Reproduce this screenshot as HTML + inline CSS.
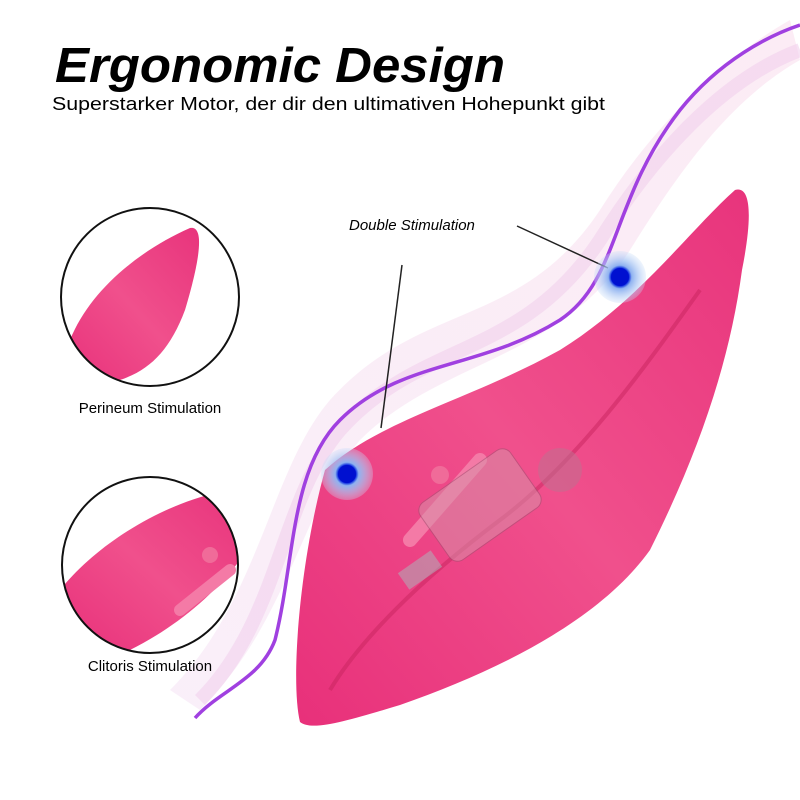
<!DOCTYPE html>
<html><head><meta charset="utf-8"><style>
html,body{margin:0;padding:0;background:#fff;width:800px;height:800px;overflow:hidden}
svg{display:block}
</style></head><body>
<svg width="800" height="800" viewBox="0 0 800 800" xmlns="http://www.w3.org/2000/svg">
<defs>
<linearGradient id="pk" x1="0" y1="1" x2="1" y2="0">
<stop offset="0" stop-color="#e8307a"/><stop offset="0.5" stop-color="#f0508c"/><stop offset="1" stop-color="#e8347c"/>
</linearGradient>
<linearGradient id="wave" x1="0" y1="1" x2="1" y2="0">
<stop offset="0" stop-color="#f6e6f6" stop-opacity="0.9"/><stop offset="1" stop-color="#f8d8ea" stop-opacity="0.7"/>
</linearGradient>
<radialGradient id="bd"><stop offset="0" stop-color="#0018d8"/><stop offset="0.35" stop-color="#1030e0"/><stop offset="0.45" stop-color="#8fb2f0"/><stop offset="1" stop-color="#c8dcf8" stop-opacity="0.3"/></radialGradient>
<clipPath id="c1"><circle cx="150" cy="297" r="89"/></clipPath>
<clipPath id="c2"><circle cx="150" cy="565" r="88"/></clipPath>
</defs>
<path d="M170 690 C260 600 270 470 330 400 C420 300 520 330 600 210 C650 130 720 60 790 20 L800 60 C730 100 680 170 630 250 C560 360 440 360 360 440 C300 510 290 620 200 710 Z" fill="url(#wave)" opacity="0.7"/>
<path d="M200 700 C280 620 280 500 340 430 C420 340 520 360 600 240 C650 160 720 80 800 50" fill="none" stroke="#f2d0ec" stroke-width="14" opacity="0.6"/>
<path d="M300 722 C290 680 300 560 325 470 C380 420 470 400 560 350 C640 300 690 230 735 190 C752 185 752 220 742 270 C730 360 700 450 650 550 C600 620 500 670 400 705 C350 720 312 732 300 722 Z" fill="url(#pk)"/>
<path d="M330 690 C360 640 420 580 500 520 C580 460 650 360 700 290" fill="none" stroke="#c8245e" stroke-width="4" opacity="0.5"/>
<path d="M410 540 L480 460" stroke="#f47aa6" stroke-width="14" stroke-linecap="round"/>
<circle cx="440" cy="475" r="9" fill="#f06b99"/>
<g opacity="0.55">
<rect x="425" y="470" width="110" height="70" rx="10" transform="rotate(-35 480 505)" fill="#d890a8" stroke="#a05070"/>
<rect x="400" y="560" width="40" height="20" transform="rotate(-35 420 570)" fill="#b0b0b8"/>
<circle cx="560" cy="470" r="22" fill="#c07090"/>
</g>
<path d="M195 718 C220 690 260 680 275 640 C295 560 290 470 340 420 C400 360 480 370 560 320 C620 280 610 200 680 110 C720 60 770 35 800 25" fill="none" stroke="#a040e0" stroke-width="3.5"/>
<line x1="402" y1="265" x2="381" y2="428" stroke="#222" stroke-width="1.5"/>
<line x1="517" y1="226" x2="608" y2="268" stroke="#222" stroke-width="1.5"/>
<circle cx="620" cy="277" r="26" fill="url(#bd)"/>
<circle cx="620" cy="277" r="9" fill="#0010d0"/>
<circle cx="347" cy="474" r="26" fill="url(#bd)"/>
<circle cx="347" cy="474" r="9" fill="#0010d0"/>
<g clip-path="url(#c1)">
<rect x="60" y="200" width="180" height="190" fill="#fff"/>
<path d="M70 340 C90 290 140 250 190 228 C205 225 200 260 185 310 C170 350 150 370 120 380 L60 380 Z" fill="url(#pk)"/>
</g>
<circle cx="150" cy="297" r="89" fill="none" stroke="#111" stroke-width="2"/>
<g clip-path="url(#c2)">
<rect x="60" y="475" width="180" height="180" fill="#fff"/>
<path d="M60 590 C100 540 170 500 230 490 L240 560 C210 600 170 630 130 650 L60 650 Z" fill="url(#pk)"/>
<path d="M180 610 L230 570" stroke="#f47aa6" stroke-width="12" stroke-linecap="round"/>
<circle cx="210" cy="555" r="8" fill="#f06b99"/>
</g>
<circle cx="150" cy="565" r="88" fill="none" stroke="#111" stroke-width="2"/>
<text x="55" y="82" textLength="450" lengthAdjust="spacingAndGlyphs" font-family="Liberation Sans, sans-serif" font-size="49" font-weight="bold" font-style="italic" fill="#000">Ergonomic Design</text>
<text x="52" y="110" textLength="553" lengthAdjust="spacingAndGlyphs" font-family="Liberation Sans, sans-serif" font-size="18" fill="#000">Superstarker Motor, der dir den ultimativen Hohepunkt gibt</text>
<text x="349" y="230" font-family="Liberation Sans, sans-serif" font-size="15" font-style="italic" fill="#000">Double Stimulation</text>
<text x="150" y="413" text-anchor="middle" font-family="Liberation Sans, sans-serif" font-size="15" fill="#000">Perineum Stimulation</text>
<text x="150" y="671" text-anchor="middle" font-family="Liberation Sans, sans-serif" font-size="15" fill="#000">Clitoris Stimulation</text>
</svg>
</body></html>
